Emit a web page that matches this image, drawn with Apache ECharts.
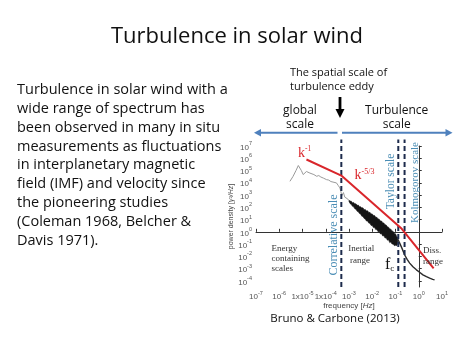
<!DOCTYPE html>
<html><head><meta charset="utf-8">
<script src="https://cdn.jsdelivr.net/npm/echarts@6/dist/echarts.min.js"></script>
<style>html,body{margin:0;padding:0;background:#fff}#c{width:474px;height:355px}</style>
</head><body><div id="c"></div>
<script>
// ---- data (log10 of frequency [Hz] and log10 of power density) ----
const grayLogF = [-5.54,-5.41,-5.28,-5.18,-5.11,-5.05,-4.97,-4.90,-4.83,-4.76,-4.68,-4.60,-4.51,-4.39,-4.30,-4.21,-4.10,-3.97,-3.87,-3.78,-3.70,-3.54,-3.46,-3.39,-3.35,-3.31,-3.24,-3.18,-3.12,-3.05,-3.00];
const grayLogP = [4.12,4.51,5.00,5.41,5.28,5.00,4.67,4.83,4.92,4.94,4.79,4.83,4.67,4.53,4.59,4.47,4.38,4.26,4.22,4.10,4.14,3.99,3.77,3.58,3.28,2.95,3.20,2.83,2.91,2.67,2.55];
// inertial-range noisy band: lower and upper envelopes
const bandLogF = [-3.00,-2.95,-2.90,-2.85,-2.80,-2.75,-2.70,-2.65,-2.60,-2.55,-2.50,-2.45,-2.40,-2.35,-2.30,-2.25,-2.20,-2.15,-2.10,-2.05,-2.00,-1.95,-1.90,-1.85,-1.80,-1.75,-1.70,-1.65,-1.60,-1.55,-1.50,-1.45,-1.40,-1.35,-1.30,-1.25,-1.20,-1.15,-1.10,-1.05,-1.00,-0.95,-0.90];
const bandLowLogP = [2.48,2.30,2.23,2.08,2.04,1.88,1.85,1.68,1.64,1.49,1.45,1.28,1.26,1.09,1.05,0.88,0.88,0.71,0.69,0.52,0.52,0.35,0.35,0.18,0.18,0.01,0.03,-0.17,-0.15,-0.34,-0.31,-0.51,-0.48,-0.68,-0.65,-0.88,-0.82,-1.00,-1.00,-1.13,-1.10,-1.13,-0.95];
const bandHighLogP = [2.58,2.51,2.50,2.38,2.40,2.27,2.29,2.16,2.18,2.05,2.05,1.94,1.96,1.81,1.83,1.70,1.72,1.57,1.59,1.46,1.46,1.33,1.33,1.18,1.18,1.05,1.03,0.88,0.88,0.75,0.71,0.58,0.55,0.41,0.38,0.24,0.22,0.07,0.03,-0.13,-0.16,-0.38,-0.45];
const tailLogF = [-0.90,-0.82,-0.72,-0.61,-0.50,-0.39,-0.25,-0.10,0.05,0.18,0.33,0.47,0.60,0.68];
const tailLogP = [-0.60,-0.92,-1.35,-1.87,-2.25,-2.55,-2.85,-3.10,-3.32,-3.51,-3.66,-3.78,-3.88,-3.92];
const fitLogF = [-4.83,-3.33,-0.73,0.64];
const fitLogP = [5.90,4.59,0.25,-2.98];
const scaleNames = ['Correlative scale','Taylor scale','Kolmogorov scale'];
const scaleLogF = [-3.33,-0.88,-0.61];
const xTickExps = [-7,-6,-5,-4,-3,-2,-1,0,1];
const xTickBases = ['10','10','1x10','1x10','10','10','10','10','10'];
const yTickExps = [-4,-3,-2,-1,0,1,2,3,4,5,6,7];
const paragraphLines = ['Turbulence in solar wind with a','wide range of spectrum has','been observed in many in situ','measurements as fluctuations','in interplanetary magnetic','field (IMF) and velocity since','the pioneering studies','(Coleman 1968, Belcher &','Davis 1971).'];

const zip = (a,b) => a.map((v,i)=>[v,b[i]]);
const chart = echarts.init(document.getElementById('c'), null, {renderer:'canvas'});
const SANS = '"Open Sans", "Noto Sans", sans-serif';
const SERIF = '"Liberation Serif", "DejaVu Serif", serif';
const TEAL = '#4a8db5';
const supRich = {
  b:{fontSize:8, lineHeight:11, verticalAlign:'bottom', color:'#555', fontFamily:'"Liberation Sans", Arial'},
  s:{fontSize:5.5, lineHeight:7, verticalAlign:'top', color:'#555', fontFamily:'"Liberation Sans", Arial'}
};
const scaleSeries = scaleLogF.map((f,i)=>({
  type:'line', name:scaleNames[i], data:[[f,-4.5],[f,7.53]], showSymbol:false, clip:false, silent:true,
  lineStyle:{color:'#1d2b4c', width:2, type:[5,3]}, z:3
}));
const graphics = [];
graphics.push({type:'text', x:237, y:37, style:{text:'Turbulence in solar wind', font:'22px '+SANS, fill:'#111', align:'center', verticalAlign:'middle'}});
paragraphLines.forEach((t,i)=>graphics.push({type:'text', x:17, y:90+i*18.84, style:{text:t, font:'14.5px '+SANS, fill:'#111', align:'left', verticalAlign:'middle'}}));
graphics.push({type:'text', x:290, y:73.3, style:{text:'The spatial scale of', font:'11px '+SANS, fill:'#111', align:'left', verticalAlign:'middle'}});
graphics.push({type:'text', x:290, y:87.3, style:{text:'turbulence eddy', font:'11px '+SANS, fill:'#111', align:'left', verticalAlign:'middle'}});
[['global',300,110.7],['scale',300,125],['Turbulence',396.7,110.7],['scale',396.7,125]].forEach(d=>graphics.push({type:'text', x:d[1], y:d[2], style:{text:d[0], font:'12px '+SANS, fill:'#111', align:'center', verticalAlign:'middle'}}));
const BLUE = '#4f81bd';
graphics.push({type:'line', shape:{x1:259,y1:132.7,x2:337.5,y2:132.7}, style:{stroke:BLUE, lineWidth:2}});
graphics.push({type:'polygon', shape:{points:[[254,132.7],[261,129],[261,136.4]]}, style:{fill:BLUE}});
graphics.push({type:'line', shape:{x1:342,y1:132.7,x2:447,y2:132.7}, style:{stroke:BLUE, lineWidth:2}});
graphics.push({type:'polygon', shape:{points:[[452.5,132.7],[445.5,129],[445.5,136.4]]}, style:{fill:BLUE}});
graphics.push({type:'rect', shape:{x:338.6,y:97,width:2.8,height:13}, style:{fill:'#000'}});
graphics.push({type:'polygon', shape:{points:[[340,118],[335.5,109],[344.5,109]]}, style:{fill:'#000'}});
const rtext = (x,y,text,rich,align)=>({type:'text', x, y, z:10, style:{text, rich, align:align||'left', verticalAlign:'middle'}});
graphics.push(rtext(298,153,'{k|k}{s|-1}',{k:{fontSize:14,lineHeight:15,verticalAlign:'bottom',fill:'#d9262b',fontFamily:SERIF},s:{fontSize:7.5,lineHeight:8,verticalAlign:'top',fill:'#d9262b',fontFamily:SERIF}}));
graphics.push(rtext(354.5,175,'{k|k}{s|-5/3}',{k:{fontSize:14,lineHeight:15,verticalAlign:'bottom',fill:'#d9262b',fontFamily:SERIF},s:{fontSize:8,lineHeight:8,verticalAlign:'top',fill:'#d9262b',fontFamily:SERIF}}));
graphics.push(rtext(385,265,'{f|f}{c|c}',{f:{fontSize:16,lineHeight:17,verticalAlign:'top',fill:'#111',fontFamily:SERIF},c:{fontSize:9,lineHeight:10,verticalAlign:'bottom',fill:'#111',fontFamily:SERIF}}));
[['Energy',271.5,248.3],['containing',271.5,258.3],['scales',271.5,268.3],['Inertial',348.3,249],['range',350,260.5],['Diss.',423,250.5],['range',423,261.5]].forEach(d=>graphics.push({type:'text', x:d[1], y:d[2], z:10, style:{text:d[0], font:'9px '+SERIF, fill:'#333', align:'left', verticalAlign:'middle'}}));
[[0,333.5,235,12],[1,391,181.5,11.5],[2,415,182.5,11]].forEach(d=>graphics.push({type:'text', x:d[1], y:d[2], rotation:Math.PI/2, z:10, style:{text:scaleNames[d[0]], font:d[3]+'px '+SERIF, fill:TEAL, align:'center', verticalAlign:'middle'}}));
graphics.push({type:'text', x:335, y:319, style:{text:'Bruno & Carbone (2013)', font:'11.5px '+SANS, fill:'#111', align:'center', verticalAlign:'middle'}});

chart.setOption({
  animation:false,
  backgroundColor:'#fff',
  grid:{left:256, right:32, top:146, bottom:68, containLabel:false},
  xAxis:{type:'value', min:-7, max:1, interval:1,
    axisLine:{lineStyle:{color:'#333', width:1}},
    axisTick:{inside:true, length:3, lineStyle:{color:'#333'}},
    splitLine:{show:false},
    axisLabel:{margin:3, rich:supRich, formatter:(v)=>{const i=xTickExps.indexOf(Math.round(v)); return i<0?'':'{b|'+xTickBases[i]+'}{s|'+xTickExps[i]+'}';}},
    name:'{n|frequency [}{i|Hz}{n|]}', nameLocation:'middle', nameGap:13,
    nameTextStyle:{rich:{n:{fontSize:8,color:'#444',fontFamily:'"Liberation Sans", Arial'}, i:{fontSize:8,color:'#444',fontStyle:'italic',fontFamily:'"Liberation Sans", Arial'}}}
  },
  yAxis:{type:'value', min:-4.5, max:7,
    axisLine:{show:true, lineStyle:{color:'#333', width:1}},
    axisTick:{show:true, inside:true, length:3, customValues:yTickExps, lineStyle:{color:'#333'}},
    splitLine:{show:false},
    axisLabel:{margin:4, rich:supRich, customValues:yTickExps, formatter:(v)=>'{b|10}{s|'+Math.round(v)+'}'},
    name:'{n|power density [}{i|γ²/Hz}{n|]}', nameLocation:'middle', nameGap:19.5,
    nameTextStyle:{rich:{n:{fontSize:7,color:'#444',fontFamily:'"Liberation Sans", Arial'}, i:{fontSize:7,color:'#444',fontStyle:'italic',fontFamily:'"Liberation Sans", Arial'}}}
  },
  series:[
    {type:'line', name:'spectrum-low', data:zip(grayLogF,grayLogP), showSymbol:false, lineStyle:{color:'#9a9a9a', width:1}, z:2},
    {type:'custom', name:'spectrum-inertial', data:[[bandLogF[0], bandLowLogP[0]]], z:2, silent:true,
      renderItem:(params, api)=>{
        const up = bandLogF.map((f,i)=>api.coord([f, bandHighLogP[i]]));
        const lo = bandLogF.map((f,i)=>api.coord([f, bandLowLogP[i]])).reverse();
        return {type:'polygon', shape:{points:up.concat(lo)}, style:{fill:'#151515', stroke:'#151515', lineWidth:0.6}};
      }},
    {type:'line', name:'spectrum-high', data:zip(tailLogF,tailLogP), showSymbol:false, lineStyle:{color:'#2b2b2b', width:1.4}, z:2},
    {type:'line', name:'fit', data:zip(fitLogF,fitLogP), showSymbol:false, lineStyle:{color:'#d9262b', width:2}, z:4}
  ].concat(scaleSeries),
  graphic:graphics
});
</script></body></html>
